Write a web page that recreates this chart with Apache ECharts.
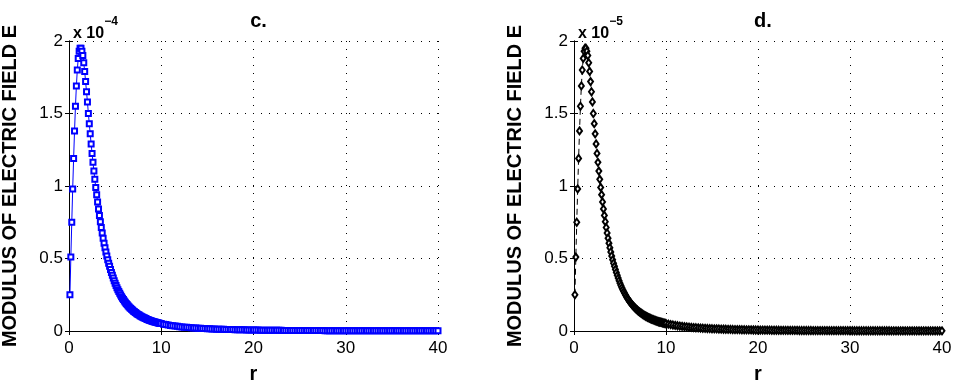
<!DOCTYPE html>
<html>
<head>
<meta charset="utf-8">
<script src="https://cdn.jsdelivr.net/npm/echarts@6/dist/echarts.min.js"></script>
<style>
  html, body { margin: 0; padding: 0; background: #fff; }
  #chart { width: 959px; height: 382px; }
</style>
</head>
<body>
<div id="chart"></div>
<script>
// |E| in units of the panel's scale factor (c: x 10^-4, d: x 10^-5)
// near part: r = 0.1 .. 10, step 0.1
const eNear = [
  0.25, 0.51, 0.75, 0.98, 1.19, 1.38, 1.55, 1.69, 1.80, 1.88,
  1.93, 1.95, 1.95, 1.93, 1.90, 1.85, 1.79, 1.72, 1.65, 1.58,
  1.50, 1.43, 1.36, 1.29, 1.225, 1.163, 1.103, 1.046, 0.99, 0.94,
  0.89, 0.842, 0.797, 0.754, 0.714, 0.676, 0.640, 0.606, 0.574, 0.545,
  0.517, 0.491, 0.467, 0.446, 0.425, 0.404, 0.384, 0.365, 0.347, 0.330,
  0.314, 0.299, 0.285, 0.272, 0.260, 0.248, 0.237, 0.226, 0.217, 0.207,
  0.198, 0.190, 0.182, 0.175, 0.168, 0.161, 0.155, 0.149, 0.143, 0.137,
  0.132, 0.127, 0.123, 0.118, 0.114, 0.110, 0.106, 0.102, 0.099, 0.095,
  0.092, 0.089, 0.086, 0.083, 0.080, 0.078, 0.075, 0.073, 0.071, 0.068,
  0.066, 0.064, 0.062, 0.061, 0.059, 0.057, 0.055, 0.054, 0.052, 0.051
]
// tail: r = 10.25 .. 40, step 0.25
const eTail = [
  0.0473, 0.0441, 0.0412, 0.0386, 0.0362, 0.0339, 0.0319, 0.0300,
  0.0283, 0.0267, 0.0252, 0.0238, 0.0225, 0.0213, 0.0202, 0.0192,
  0.0182, 0.0173, 0.0164, 0.0157, 0.0149, 0.0142, 0.0136, 0.0129,
  0.0124, 0.0118, 0.0113, 0.0108, 0.0104, 0.0099, 0.0095, 0.0091,
  0.0088, 0.0084, 0.0081, 0.0078, 0.0075, 0.0072, 0.0070, 0.0067,
  0.0065, 0.0062, 0.0060, 0.0058, 0.0056, 0.0054, 0.0052, 0.0051,
  0.0049, 0.0047, 0.0046, 0.0044, 0.0043, 0.0042, 0.0040, 0.0039,
  0.0038, 0.0037, 0.0036, 0.0035, 0.0034, 0.0033, 0.0032, 0.0031,
  0.0030, 0.0029, 0.0028, 0.0028, 0.0027, 0.0026, 0.0025, 0.0025,
  0.0024, 0.0023, 0.0023, 0.0022, 0.0022, 0.0021, 0.0021, 0.0020,
  0.0020, 0.0019, 0.0019, 0.0018, 0.0018, 0.0017, 0.0017, 0.0017,
  0.0016, 0.0016, 0.0015, 0.0015, 0.0015, 0.0014, 0.0014, 0.0014,
  0.0014, 0.0013, 0.0013, 0.0013, 0.0012, 0.0012, 0.0012, 0.0012,
  0.0011, 0.0011, 0.0011, 0.0011, 0.0011, 0.0010, 0.0010, 0.0010,
  0.0010, 0.0010, 0.0009, 0.0009, 0.0009, 0.0009, 0.0009, 0.0009
]
const nearStep = 0.1
const tailStart = 10
const tailStep = 0.25

const panelTitles = ["c.", "d."]
const panelExponents = ["−4", "−5"]
const yName = "MODULUS OF ELECTRIC FIELD E"
const xName = "r"

const points = []
eNear.forEach((v, i) => points.push([+((i + 1) * nearStep).toFixed(2), v]))
eTail.forEach((v, i) => points.push([+(tailStart + (i + 1) * tailStep).toFixed(2), v]))

const font = '"Liberation Sans", Arial, Helvetica, sans-serif'

const chart = echarts.init(document.getElementById("chart"))

const grids = [
  { left: 69, top: 41, width: 369, height: 290, outerBoundsMode: "none" },
  { left: 574, top: 41, width: 368, height: 290, outerBoundsMode: "none" },
]

const dotted = { color: "#000", width: 1, type: [1, 7] }

function xAxes(g) {
  return [
    {
      gridIndex: g, type: "value", min: 0, max: 40, interval: 10,
      axisLine: { lineStyle: { color: "#000", width: 1 } },
      axisTick: { inside: true, length: 4, lineStyle: { color: "#000" } },
      axisLabel: { color: "#000", fontSize: 17, fontFamily: font, margin: 9 },
      splitLine: { show: true, lineStyle: dotted },
      name: xName, nameLocation: "middle", nameGap: 33,
      nameTextStyle: { color: "#000", fontSize: 20, fontWeight: "bold", fontFamily: font },
    },
    {
      gridIndex: g, type: "value", min: 0, max: 40, interval: 10, position: "top",
      axisLine: { lineStyle: { color: "#000", width: 1 } },
      axisTick: { inside: true, length: 4, lineStyle: { color: "#000" } },
      axisLabel: { show: false },
      splitLine: { show: false },
    },
  ]
}

function yAxes(g) {
  return [
    {
      gridIndex: g, type: "value", min: 0, max: 2, interval: 0.5,
      axisLine: { show: true, lineStyle: { color: "#000", width: 1 } },
      axisTick: { show: true, inside: true, length: 4, lineStyle: { color: "#000" } },
      axisLabel: { color: "#000", fontSize: 17, fontFamily: font, margin: 6 },
      splitLine: { show: true, lineStyle: dotted },
      name: yName, nameLocation: "middle", nameGap: 49, nameRotate: 90,
      nameTextStyle: { color: "#000", fontSize: 20, fontWeight: "bold", fontFamily: font },
    },
    {
      gridIndex: g, type: "value", min: 0, max: 2, interval: 0.5, position: "right",
      axisLine: { show: true, lineStyle: { color: "#000", width: 1 } },
      axisTick: { show: true, inside: true, length: 4, lineStyle: { color: "#000" } },
      axisLabel: { show: false },
      splitLine: { show: false },
    },
  ]
}

const titles = []
grids.forEach((g, i) => {
  titles.push({
    text: panelTitles[i],
    left: g.left + g.width / 2, top: 6, textAlign: "center",
    textStyle: { fontSize: 20, fontWeight: "bold", color: "#000", fontFamily: font },
  })
  titles.push({
    text: "{a|x 10}{b|" + panelExponents[i] + "}",
    left: g.left - 1, top: 11,
    textStyle: {
      rich: {
        a: { fontSize: 16, fontFamily: font, color: "#000", verticalAlign: "bottom", lineHeight: 26 },
        b: { fontSize: 12, fontFamily: font, color: "#000", verticalAlign: "top", lineHeight: 26 },
      },
    },
  })
})

chart.setOption({
  animation: false,
  backgroundColor: "#fff",
  title: titles,
  grid: grids,
  xAxis: [...xAxes(0), ...xAxes(1)],
  yAxis: [...yAxes(0), ...yAxes(1)],
  series: [
    {
      name: "c", type: "line", xAxisIndex: 0, yAxisIndex: 0,
      data: points,
      symbol: "emptyRect", symbolSize: 5,
      lineStyle: { color: "#0000ff", width: 1 },
      itemStyle: { color: "#0000ff", borderColor: "#0000ff", borderWidth: 1 },
    },
    {
      name: "d", type: "line", xAxisIndex: 2, yAxisIndex: 2,
      data: points,
      symbol: "emptyDiamond", symbolSize: [5, 7],
      lineStyle: { color: "#000", width: 1, type: [6, 4] },
      itemStyle: { color: "#000", borderColor: "#000", borderWidth: 1 },
    },
  ],
})
</script>
</body>
</html>
